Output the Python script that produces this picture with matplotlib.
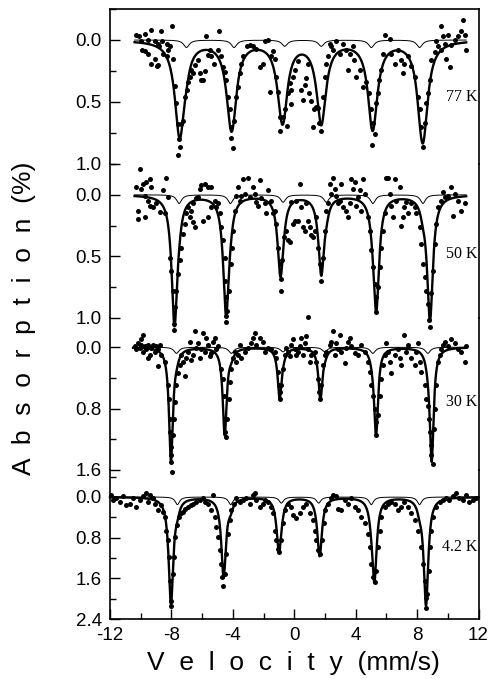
import numpy as np
import matplotlib.pyplot as plt
from matplotlib.ticker import MultipleLocator
import matplotlib.transforms as mtransforms

plt.rcParams['font.family'] = ['Liberation Sans', 'DejaVu Sans']
plt.rcParams['axes.unicode_minus'] = False

# ---- data ----
temps = ['77 K', '50 K', '30 K', '4.2 K']

# main sextet: line positions (mm/s), depths (%), linewidth
pos77 = [-7.46, -4.10, -0.78, 1.76, 5.12, 8.38]
amp77 = [0.77, 0.68, 0.62, 0.61, 0.66, 0.79]
wid77 = 0.76
pos50 = [-7.80, -4.44, -0.90, 1.76, 5.34, 8.84]
amp50 = [1.04, 0.95, 0.62, 0.63, 0.91, 1.01]
wid50 = 0.45
pos30 = [-8.03, -4.53, -0.95, 1.70, 5.33, 8.95]
amp30 = [1.46, 1.13, 0.64, 0.66, 1.11, 1.46]
wid30 = 0.31
pos4 = [-8.03, -4.60, -1.00, 1.66, 5.22, 8.58]
amp4 = [2.08, 1.56, 1.02, 1.05, 1.61, 2.11]
wid4 = 0.36

# minor sextet (thin line)
mpos77 = [-7.02, -3.92, -0.62, 1.76, 5.02, 8.16]
mamp77 = [0.06, 0.06, 0.05, 0.05, 0.06, 0.06]
mpos50 = [-7.50, -4.16, -0.73, 2.09, 5.12, 8.38]
mamp50 = [0.07, 0.07, 0.06, 0.06, 0.07, 0.07]
mpos30 = [-7.67, -4.10, -0.73, 1.98, 5.12, 8.70]
mamp30 = [0.08, 0.08, 0.06, 0.06, 0.08, 0.08]
mpos4 = [-7.61, -4.14, -0.84, 1.59, 5.02, 8.16]
mamp4 = [0.15, 0.15, 0.12, 0.12, 0.15, 0.15]
mwid = [0.45, 0.40, 0.40, 0.35]

# measured points
v77 = [-10.3, -10.1, -9.95, -9.7, -9.5, -9.3, -9.1, -8.9, -8.8, -8.7, -8.6, -9.9, -9.7, -9.5, -9.1,
       -8.85, -8.55, -8.3, -8.2, -7.95, -8.3, -8.1, -7.9, -9.3, -8.95,
       -7.78, -7.67, -7.56, -7.5, -7.46, -7.56, -7.35, -7.24, -7.1, -6.98, -6.9, -6.8, -6.7, -6.6,
       -6.45, -6.27, -6.16, -6.05, -5.95, -5.83, -5.72, -5.6, -5.5, -5.4, -5.2, -4.97, -4.87, -4.75,
       -4.65, -4.53, -4.42,
       -4.3, -4.2, -4.15, -4.1, -4.0, -3.9, -3.8, -3.66, -3.55, -3.44, -3.33, -3.1, -2.9, -2.68,
       -2.47, -2.25, -2.03, -1.9, -1.7, -1.6, -1.49, -1.38, -1.28,
       -1.17, -1.06, -0.95, -0.9, -0.73, -0.6, -0.5, -0.4, -0.3, -0.19, -0.08, 0.03, 0.25, -0.2,
       0.46, 0.57, 0.68, 0.78, 0.89, 0.97, 1.1, 1.2, 1.3, 1.4, 1.52, 1.63, 1.76,
       1.85, 1.98, 2.09, 2.2, 2.3, 2.4, 2.52, 2.74, 2.95, 3.16, 3.38, 3.5, 3.6, 3.8, 3.9, 4.0,
       4.25, 4.47, 4.7, 4.9, 5.02, 5.12,
       5.05, 5.23, 5.34, 5.45, 5.55, 5.66, 5.77, 5.88, 6.21, 6.32, 6.53, 6.75, 6.97, 7.08, 7.18,
       7.4, 7.62, 7.84, 8.06, 8.16, 8.27, 8.38, 8.49, 8.6, 8.7, 8.81, 8.92,
       9.14, 9.25, 9.36, 9.57, 9.79, 9.9, 10.12, 10.23, 10.45, 9.57, 9.68, 10.0, 10.66, 10.88,
       10.99, 11.1, 11.2]
a77 = [-0.04, -0.03, 0.01, -0.05, 0.0, -0.08, 0.01, 0.03, 0.05, -0.07, 0.01, 0.08, 0.09, 0.11, 0.15,
       0.2, 0.11, 0.13, 0.08, -0.11, 0.03, 0.05, 0.15, 0.19, 0.21,
       0.37, 0.51, 0.68, 0.80, 0.86, 0.93, 0.68, 0.65, 0.46, 0.40, 0.34, 0.30, 0.24, 0.27,
       0.20, 0.16, 0.27, 0.32, 0.32, 0.25, -0.03, 0.12, 0.08, 0.13, 0.19, 0.08, -0.07, 0.13,
       0.22, 0.26, 0.32,
       0.46, 0.56, 0.70, 0.79, 0.87, 0.65, 0.46, 0.38, 0.27, 0.19, 0.13, 0.05, 0.04, 0.05,
       0.07, 0.22, 0.19, 0.01, 0.0, 0.42, 0.13, 0.09, 0.15,
       0.30, 0.42, 0.62, 0.73, 0.62, 0.56, 0.69, 0.43, 0.35, 0.40, 0.30, 0.24, 0.17, 0.52,
       0.40, 0.48, 0.36, 0.31, 0.19, 0.43, 0.49, 0.70, 0.56, 0.54, 0.55, 0.67, 0.73,
       0.46, 0.30, 0.19, 0.13, 0.03, 0.05, 0.08, 0.01, 0.11, 0.03, 0.08, 0.24, 0.11, 0.05, 0.16, 0.30,
       0.24, 0.38, 0.34, 0.43, 0.56, 0.67,
       0.85, 0.76, 0.51, 0.43, 0.32, 0.24, 0.11, -0.04, -0.01, 0.11, 0.19, 0.08, 0.16, 0.27, 0.19,
       0.13, 0.21, 0.30, 0.46, 0.56, 0.70, 0.86, 0.67, 0.51, 0.43, 0.32, 0.16,
       0.10, 0.01, 0.05, 0.08, 0.03, 0.15, 0.22, 0.04, 0.0, -0.11, -0.03, -0.04, -0.03, -0.07,
       -0.16, -0.04, 0.08]

v50 = [-10.28, -10.06, -9.95, -9.84, -9.63, -9.41, -9.30, -9.74, -9.52, -9.41, -9.19, -8.98, -8.76,
       -10.17, -10.17, -9.74, -8.33, -8.54, -8.22, -8.43,
       -8.11, -8.0, -7.89, -7.78, -7.67, -7.57, -7.46, -7.35, -7.24, -7.13, -7.02, -6.92, -6.70,
       -6.59, -6.48, -6.81, -6.59, -6.37, -6.26, -6.16, -6.05, -5.83, -5.61, -5.40, -5.18, -5.07,
       -4.96, -5.40, -5.61, -5.94, -4.85, -4.75, -4.64, -4.53, -4.49, -4.42, -4.36, -4.27, -4.14,
       -4.05, -3.99, -3.88, -3.81, -3.66, -3.55, -3.44, -3.34, -3.23, -3.01, -2.90, -2.69, -2.58,
       -2.47, -2.36, -2.25, -2.14, -1.93, -1.82, -1.71, -1.49, -1.38, -1.28, -1.17, -1.06, -0.95,
       -0.89, -0.80, -0.67, -0.52, -0.41, -0.30, -0.19, -0.08, 0.03, 0.13, 0.24, 0.35, 0.46, 0.57,
       0.68, 0.79, 0.89, 1.0, 1.11, 1.22, 1.33, 1.44, 1.54, 1.65, 1.76, 1.87, 1.98, 2.09, 2.20,
       2.30, 2.41, 2.52, 2.63, 2.74, 2.85, 2.95, 3.06, 3.17, 3.39, 3.50, 3.61, 3.71, 3.82, 3.93,
       4.04, 4.15, 4.26, 4.36, 4.47, 4.58, 4.80, 4.91, 5.02, 5.12, 5.23, 5.34, 5.45, 5.56, 5.67,
       5.77, 5.88, 5.99, 6.10, 6.21, 6.32, 6.43, 6.53, 6.64, 6.86, 6.97, 7.08, 7.18, 7.29, 7.40,
       7.62, 7.84, 7.94, 8.16, 8.27, 8.38, 8.49, 8.59, 8.70, 8.92, 9.03, 9.14, 9.25, 9.35, 9.57,
       9.68, 9.79, 10.0, 10.22, 10.44, 10.66, 10.87, 11.09, 10.33,
       -7.80, -7.85, -4.45, -4.42, 5.35, 8.80, 8.85, 0.87, -0.87]
a50 = [-0.06, -0.21, -0.05, -0.09, -0.10, -0.13, -0.06, 0.01, 0.05, 0.09, 0.10, 0.07, 0.14,
       0.13, 0.20, 0.18, -0.14, -0.04, 0.02, 0.15,
       0.51, 0.62, 0.78, 0.91, 0.78, 0.64, 0.53, 0.43, 0.32, 0.24, 0.15, 0.10, 0.13,
       0.22, 0.26, 0.18, 0.07, 0.03, 0.02, -0.05, -0.08, -0.09, -0.06, -0.06, 0.05, 0.10,
       0.07, 0.10, 0.18, 0.21, 0.15, 0.26, 0.37, 0.51, 0.70, 0.83, 0.94, 0.78, 0.56,
       0.43, 0.29, 0.13, 0.01, -0.06, 0.05, 0.01, -0.13, -0.01, -0.14, 0.02, -0.06, -0.01,
       0.06, 0.09, -0.12, 0.03, 0.07, 0.15, -0.04, 0.05, 0.15, 0.13, 0.24, 0.43, 0.56,
       0.68, 0.53, 0.34, 0.29, 0.37, 0.38, 0.06, 0.24, 0.21, 0.05, 0.21, -0.09, 0.10, 0.26,
       0.29, 0.07, 0.21, 0.26, 0.33, 0.34, 0.29, 0.18, 0.43, 0.56, 0.70, 0.51, 0.29, 0.13, 0.07,
       -0.09, -0.01, -0.14, -0.05, 0.01, 0.07, 0.05, -0.09, 0.10, 0.13, 0.18, 0.07, -0.13, -0.05, -0.10,
       0.09, 0.02, -0.04, 0.13, -0.13, -0.01, 0.18, 0.29, 0.45, 0.59, 0.72, 0.83, 0.75, 0.59, 0.43,
       0.29, 0.15, -0.14, -0.14, -0.01, 0.09, 0.18, -0.13, 0.05, -0.06, 0.25, 0.18, 0.10, 0.06, 0.15,
       0.07, 0.10, 0.15, 0.26, 0.40, 0.56, 0.67, 0.78, 0.89, 0.80, 0.62, 0.40, 0.24, 0.10, 0.05,
       -0.02, 0.02, 0.01, -0.06, -0.01, 0.05, 0.13, 0.07, 0.17,
       1.05, 1.10, 0.98, 1.03, 0.95, 1.02, 1.07, 0.99, 0.78]

v30 = [-10.39, -10.28, -10.17, -10.06, -9.95, -9.84, -9.74, -9.63, -9.52, -9.41, -9.30, -9.19,
       -9.08, -8.98, -8.87, -8.76, -8.65, -9.52, -8.87, -9.95, -9.84, -8.43,
       -8.22, -8.15, -8.11, -8.07, -8.04, -8.0, -8.0, -7.99, -7.89, -7.83, -7.78, -7.67, -7.57,
       -7.46, -7.35, -7.24, -7.13, -7.02, -6.92, -6.81, -6.70, -6.59, -6.48, -6.37, -6.26, -6.16,
       -6.05, -5.94, -5.83, -5.72, -5.61, -5.51, -5.40, -5.29, -5.18, -5.07, -4.96,
       -4.75, -4.64, -4.57, -4.53, -4.49, -4.42, -4.36, -4.27, -4.20, -4.10, -3.99, -3.88, -3.77,
       -3.66, -3.55, -3.44, -3.23, -3.01, -2.79, -2.69, -2.58, -2.47, -2.25, -2.03, -1.93, -1.71,
       -1.49, -1.28, -1.17, -1.06, -1.02, -0.95, -0.91, -0.84, -0.73, -0.62, -0.52, -0.41, -0.30,
       -0.19, -0.08, 0.03, 0.13, 0.24, 0.35, 0.46, 0.57, 0.68, 0.79, 0.89, 1.0, 1.11, 1.33, 1.44,
       1.54, 1.61, 1.67, 1.76, 1.87, 1.98, 2.09, 2.30, 2.41, 2.52, 2.63, 2.74, 2.85, 2.95, 3.06,
       3.28, 3.39, 3.50, 3.61, 3.71, 3.93, 4.15, 4.36, 4.58, 4.80, 4.91, 5.02, 5.12, 5.23, 5.30,
       5.34, 5.45, 5.56, 5.67, 5.77, 5.88, 5.99, 6.10, 6.21, 6.32, 6.53, 6.75, 6.86, 6.97, 7.18,
       7.29, 7.40, 7.62, 7.84, 7.94, 8.05, 8.16, 8.27, 8.49, 8.59, 8.70, 8.75, 8.81, 8.88, 8.92,
       9.03, 9.09, 9.18, 9.25, 9.35, 9.46, 9.57, 9.68, 9.79, 10.0, 10.22, 10.44, 10.66, 10.87,
       11.09, 11.20]
a30 = [-0.01, 0.03, -0.05, 0.01, -0.03, 0.06, -0.01, 0.03, -0.03, 0.10, 0.01, -0.03,
       0.06, -0.01, 0.03, -0.03, 0.10, 0.14, 0.25, -0.10, -0.16, 0.19,
       0.49, 0.67, 0.93, 1.11, 1.30, 1.41, 1.50, 1.62, 1.15, 0.93, 0.71, 0.49, 0.34,
       0.23, 0.10, 0.19, 0.38, 0.14, 0.06, -0.07, 0.17, 0.10, -0.21, 0.01, -0.05, 0.14,
       0.03, -0.18, 0.06, -0.12, -0.03, 0.12, 0.08, -0.07, -0.12, 0.03, -0.01,
       0.28, 0.41, 0.63, 0.93, 1.11, 1.17, 0.93, 0.67, 0.45, 0.28, 0.14, 0.06, 0.19,
       0.10, -0.03, 0.14, 0.06, 0.01, -0.05, -0.12, -0.18, -0.03, -0.12, -0.07, 0.06, 0.01,
       0.03, 0.06, 0.14, 0.32, 0.49, 0.58, 0.67, 0.49, 0.28, 0.10, 0.01, 0.06, 0.12,
       -0.03, -0.10, 0.03, 0.10, 0.06, -0.01, -0.12, 0.10, -0.05, -0.14, 0.03, 0.19, 0.10, 0.06, 0.19,
       0.41, 0.58, 0.67, 0.49, 0.23, 0.10, 0.06, -0.03, -0.07, -0.21, 0.10, -0.05, 0.03, -0.16, 0.06,
       0.21, 0.01, -0.07, -0.12, -0.01, 0.08, 0.10, -0.03, 0.06, 0.19, 0.32, 0.49, 0.63, 0.80, 0.97,
       1.15, 0.89, 0.63, 0.41, 0.23, 0.10, -0.05, 0.06, 0.19, 0.34, 0.10, 0.03, 0.14, 0.23, -0.16,
       0.06, -0.03, 0.14, 0.23, 0.06, -0.05, 0.19, 0.32, 0.49, 0.67, 0.76, 0.93, 1.11, 1.28, 1.41,
       1.52, 1.06, 0.80, 0.49, 0.19, 0.10, 0.03, -0.03, -0.07, -0.01, -0.10, -0.05, 0.03, 0.06,
       0.19, -0.01]

v4 = [-11.95, -11.80, -11.58, -11.36, -11.15, -10.93, -10.71, -10.49, -10.28, -10.06, -9.84, -9.63,
      -9.52, -9.41, -9.19, -9.08, -8.87, -8.65, -8.54, -8.43, -8.33, -8.22, -8.15, -8.11, -8.04,
      -8.0, -7.89, -7.83, -7.74, -7.63, -7.52, -7.39, -7.24, -7.09, -6.92, -6.70, -6.59, -6.37,
      -6.16, -5.94, -5.83, -5.61, -5.40, -5.29, -5.18, -5.07, -4.96, -4.85, -4.75, -4.68, -4.62,
      -4.53, -4.42, -4.31, -4.20, -4.10, -3.92, -3.77, -3.55, -3.34, -3.12, -2.90, -2.69, -2.58,
      -2.47, -2.25, -2.03, -1.93, -1.71, -1.49, -1.38, -1.28, -1.17, -1.06, -0.99, -0.89, -0.73,
      -0.62, -0.41, -0.19, -0.08, 0.13, 0.35, 0.57, 0.79, 1.0, 1.22, 1.33, 1.44, 1.54, 1.67, 1.81,
      1.91, 2.02, 2.20, 2.37, 2.52, 2.74, 2.85, 3.06, 3.28, 3.50, 3.71, 3.93, 4.15, 4.36, 4.58,
      4.80, 4.91, 5.02, 5.12, 5.23, 5.34, 5.45, 5.56, 5.67, 5.88, 6.10, 6.32, 6.53, 6.75, 6.97,
      7.18, 7.40, 7.62, 7.84, 8.05, 8.27, 8.38, 8.49, 8.55, 8.59, 8.66, 8.75, 8.83, 8.92, 9.03,
      9.25, 9.46, 9.68, 9.90, 10.11, 10.33, 10.55, 10.76, 10.98, 11.20, 11.41, 11.63, 11.85]
a4 = [-0.04, 0.06, 0.03, 0.09, -0.01, 0.16, 0.13, 0.03, 0.19, 0.06, -0.01, -0.07,
      0.09, -0.04, 0.03, 0.13, 0.26, 0.16, 0.29, 0.39, 0.66, 0.85, 1.19, 1.65, 2.05,
      2.15, 1.52, 1.19, 0.79, 0.56, 0.39, 0.32, 0.29, 0.23, 0.19, 0.16, 0.13, 0.09,
      0.06, 0.03, 0.09, 0.13, 0.26, -0.04, 0.39, 0.59, 0.79, 1.05, 1.32, 1.58, 1.75,
      1.52, 1.12, 0.72, 0.46, 0.26, 0.13, 0.03, 0.09, 0.06, 0.03, 0.13, -0.04, -0.07,
      0.06, 0.19, 0.13, 0.06, 0.09, 0.19, 0.32, 0.66, 0.85, 1.02, 1.09, 0.85, 0.52,
      0.26, 0.13, 0.19, 0.36, 0.42, 0.32, 0.19, 0.13, 0.32, 0.46, 0.66, 0.85, 1.05, 1.12, 0.85,
      0.52, 0.26, 0.13, 0.03, -0.04, -0.01, 0.23, 0.26, 0.06, 0.13, 0.03, 0.19, 0.26, 0.39, 0.52,
      0.72, 0.99, 1.32, 1.58, 1.68, 1.45, 0.99, 0.66, 0.39, 0.19, 0.13, 0.09, 0.13, 0.26, 0.19,
      0.09, 0.19, 0.32, 0.46, 0.66, 0.99, 1.32, 1.65, 1.98, 2.18, 1.91, 1.45, 0.99, 0.66, 0.39,
      0.19, 0.09, 0.06, 0.03, 0.06, -0.01, -0.07, 0.03, 0.06, -0.04, 0.09, 0.06, 0.03]

panels = [
    (v77, a77, pos77, amp77, wid77, mpos77, mamp77, (-10.4, 11.2)),
    (v50, a50, pos50, amp50, wid50, mpos50, mamp50, (-10.4, 11.2)),
    (v30, a30, pos30, amp30, wid30, mpos30, mamp30, (-10.5, 11.2)),
    (v4, a4, pos4, amp4, wid4, mpos4, mamp4, (-12.0, 12.0)),
]
ylims = [(-0.25, 1.0), (-0.25, 1.0), (-0.38, 1.6), (-0.53, 2.4)]
yticks = [[0.0, 0.5, 1.0], [0.0, 0.5, 1.0], [0.0, 0.8, 1.6], [0.0, 0.8, 1.6, 2.4]]
yminor = [0.25, 0.25, 0.4, 0.4]
label_y = [0.46, 0.48, 0.72, 0.99]


def lorentz_sum(x, pos, amp, width):
    hw = width / 2.0
    y = np.zeros_like(x)
    for p, a in zip(pos, amp):
        y += a * hw**2 / ((x - p)**2 + hw**2)
    return y


W, H = 494, 679
fig = plt.figure(figsize=(W / 100, H / 100), dpi=100)
edges = [9, 164, 318, 470, 619]
x0, x1 = 110, 478.5

for i in range(4):
    ax = fig.add_axes([x0 / W, 1 - edges[i + 1] / H, (x1 - x0) / W, (edges[i + 1] - edges[i]) / H])
    ax.patch.set_alpha(0)
    v, a, pos, amp, wid, mpos, mamp, xr = panels[i]
    xs = np.linspace(xr[0], xr[1], 2500)
    minor = lorentz_sum(xs, mpos, mamp, mwid[i])
    total = lorentz_sum(xs, pos, amp, wid) + minor
    ax.plot(xs, minor, color='k', lw=0.7, clip_on=False)
    ax.plot(xs, total, color='k', lw=1.7, clip_on=False)
    ax.plot(v, a, 'o', color='k', ms=3.6, mec='none', clip_on=False)

    ax.set_xlim(-12, 12)
    ax.set_ylim(ylims[i][1], ylims[i][0])
    ax.set_yticks(yticks[i])
    ax.set_yticklabels(['%.1f' % t for t in yticks[i]])
    ax.yaxis.set_minor_locator(MultipleLocator(yminor[i]))
    ax.tick_params(axis='y', which='major', direction='in', length=7, width=1.0,
                   labelsize=13.5, pad=6)
    ax.tick_params(axis='y', which='minor', direction='in', length=4, width=1.0)
    ax.xaxis.set_major_locator(MultipleLocator(4))
    ax.xaxis.set_minor_locator(MultipleLocator(2))
    if i < 3:
        ax.spines['bottom'].set_visible(False)
        ax.tick_params(axis='x', which='both', bottom=False, labelbottom=False)
    else:
        ax.tick_params(axis='x', which='major', direction='in', length=7, width=1.0,
                       labelsize=13.5, pad=6)
        ax.tick_params(axis='x', which='minor', direction='in', length=4, width=1.0)
    if i > 0:
        ax.spines['top'].set_visible(False)
    for s in ax.spines.values():
        s.set_linewidth(1.2)

    trans = mtransforms.blended_transform_factory(ax.transAxes, ax.transData)
    ax.text(0.997, label_y[i], temps[i], transform=trans, ha='right', va='center',
            fontsize=11.5, family='Liberation Serif')

fig.text(24 / W, 1 - 318 / H, 'A  b  s  o  r  p  t  i  o  n  (%)', rotation=90,
         ha='center', va='center', fontsize=19)
fig.text(293 / W, 1 - 663 / H, 'V  e  l  o  c  i  t  y  (mm/s)',
         ha='center', va='center', fontsize=19)

fig.savefig('out.png', dpi=100)
